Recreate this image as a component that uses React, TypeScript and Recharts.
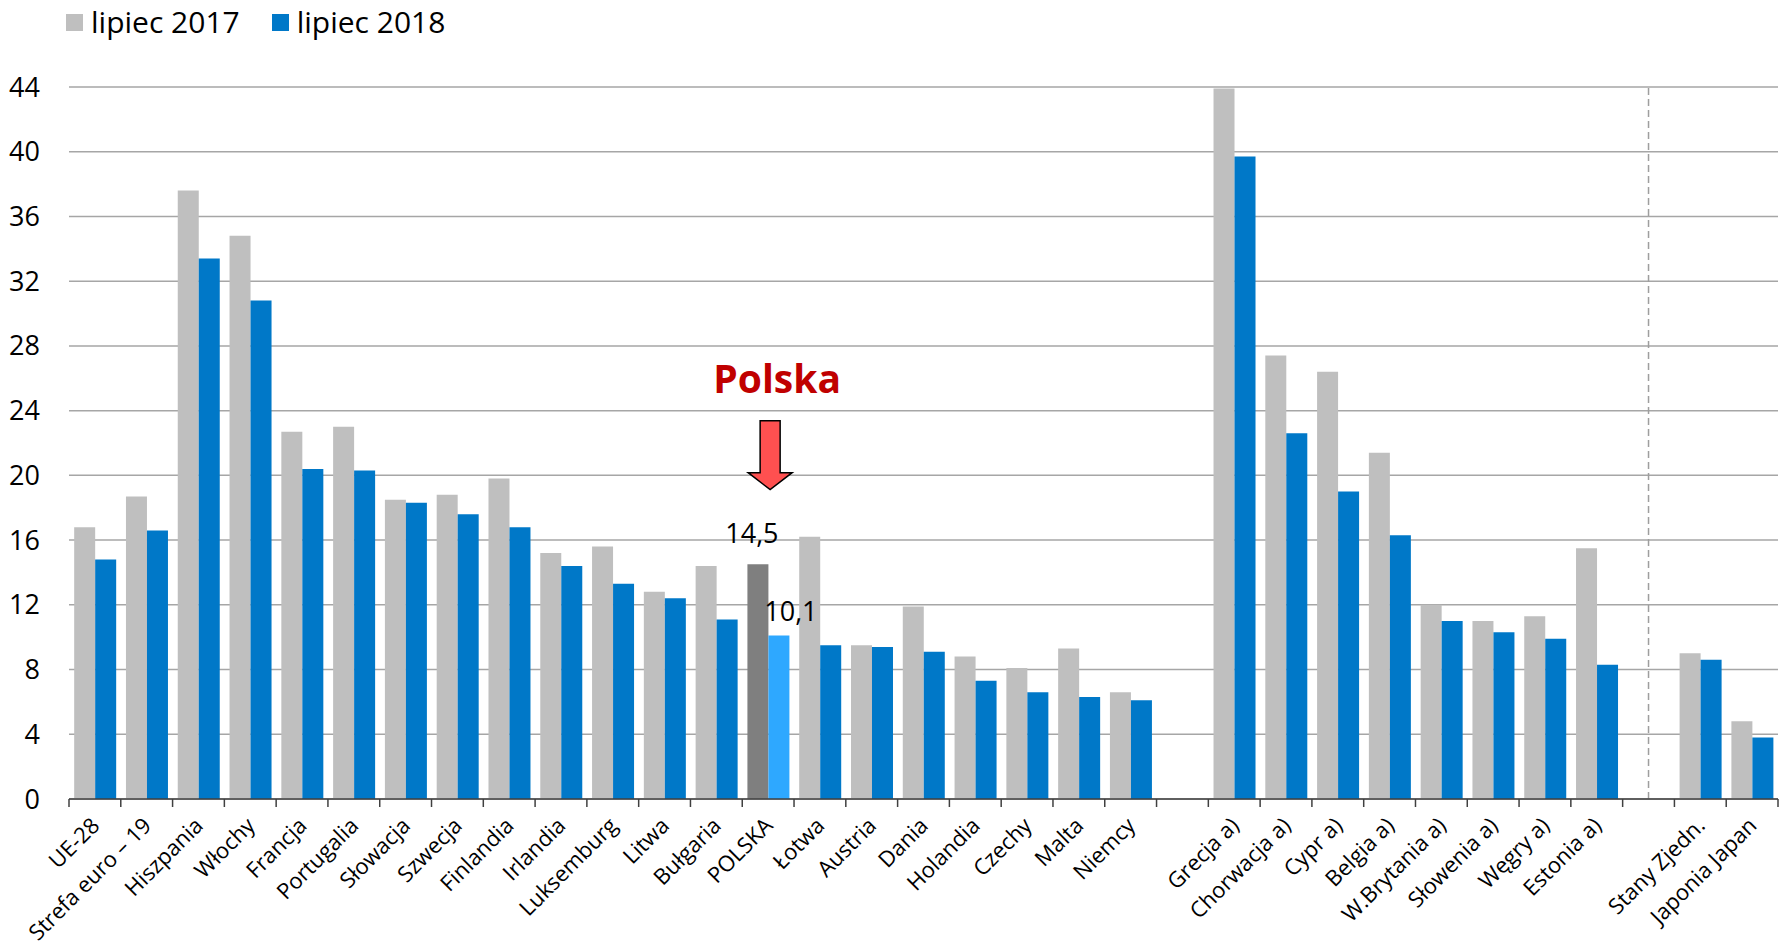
import React from "react";
import { BarChart, Bar, XAxis, YAxis, CartesianGrid, Cell, LabelList, ReferenceLine, ReferenceDot } from "recharts";

// categories (blank names are the gaps between groups)
const categories = [
  "UE-28", "Strefa euro – 19", "Hiszpania", "Włochy", "Francja", "Portugalia", "Słowacja",
  "Szwecja", "Finlandia", "Irlandia", "Luksemburg", "Litwa", "Bułgaria", "POLSKA", "Łotwa",
  "Austria", "Dania", "Holandia", "Czechy", "Malta", "Niemcy", " ",
  "Grecja a)", "Chorwacja a)", "Cypr a)", "Belgia a)", "W.Brytania a)", "Słowenia a)",
  "Węgry a)", "Estonia a)", "  ", "Stany Zjedn.", "Japonia Japan",
];

const lipiec2017 = [
  16.8, 18.7, 37.6, 34.8, 22.7, 23.0, 18.5, 18.8, 19.8, 15.2, 15.6, 12.8, 14.4, 14.5, 16.2,
  9.5, 11.9, 8.8, 8.1, 9.3, 6.6, null,
  43.9, 27.4, 26.4, 21.4, 12.0, 11.0, 11.3, 15.5, null, 9.0, 4.8,
];

const lipiec2018 = [
  14.8, 16.6, 33.4, 30.8, 20.4, 20.3, 18.3, 17.6, 16.8, 14.4, 13.3, 12.4, 11.1, 10.1, 9.5,
  9.4, 9.1, 7.3, 6.6, 6.3, 6.1, null,
  39.7, 22.6, 19.0, 16.3, 11.0, 10.3, 9.9, 8.3, null, 8.6, 3.8,
];

const yTicks = [0, 4, 8, 12, 16, 20, 24, 28, 32, 36, 40, 44];

const POLAND = "POLSKA";
const SEPARATOR = "  ";
const GRAY = "#BFBFBF";
const BLUE = "#0078C8";
const GRAY_PL = "#7F7F7F";
const BLUE_PL = "#2EA8FF";

const W = 1785;
const H = 945;
const M = { top: 87, right: 7, left: 0, bottom: 0 };
const Y_AXIS_W = 69;
const SLOT = (W - M.left - M.right - Y_AXIS_W) / categories.length;

const data = categories.map((name, i) => ({ name, v2017: lipiec2017[i], v2018: lipiec2018[i] }));

const FONT = "'Open Sans', sans-serif";

function CategoryTick(props: any) {
  const { x, y, payload, index } = props;
  const label = String(payload.value).trim();
  return (
    <g>
      <line x1={x - SLOT / 2} x2={x - SLOT / 2} y1={y} y2={y + 8} stroke="#404040" strokeWidth={1.5} />
      {index === categories.length - 1 && (
        <line x1={x + SLOT / 2} x2={x + SLOT / 2} y1={y} y2={y + 8} stroke="#404040" strokeWidth={1.5} />
      )}
      {label && (
        <text
          transform={`translate(${x + 6},${y + 28}) rotate(-45)`}
          textAnchor="end"
          fontSize={22}
          fontFamily={FONT}
          fill="#000"
        >
          {label}
        </text>
      )}
    </g>
  );
}

// value label only for Poland
const polandLabel = (dx: number, lift: number) => (props: any) => {
  const { x, y, width, value, index } = props;
  if (categories[index] !== POLAND) return null;
  return (
    <text x={x + width / 2 + dx} y={y - lift} textAnchor="middle" fontSize={27} fontFamily={FONT} fill="#000">
      {String(value).replace(".", ",")}
    </text>
  );
};

function PolskaArrow(props: any) {
  const { cx, cy } = props;
  const ax = cx + 2;
  return (
    <g>
      <text x={cx + 9} y={cy - 18} textAnchor="middle" fontSize={39} fontWeight="bold" fontFamily={FONT} fill="#C00000">
        Polska
      </text>
      <path
        d={`M ${ax - 10} ${cy + 10} L ${ax + 10} ${cy + 10} L ${ax + 10} ${cy + 62} L ${ax + 22} ${cy + 62} L ${ax} ${cy + 79} L ${ax - 22} ${cy + 62} L ${ax - 10} ${cy + 62} Z`}
        fill="#FF5050"
        stroke="#000"
        strokeWidth={1.5}
      />
    </g>
  );
}

function LegendItem({ color, text }: { color: string; text: string }) {
  return (
    <div style={{ display: "flex", alignItems: "center", marginRight: 32 }}>
      <div style={{ width: 17, height: 17, background: color, marginRight: 8 }} />
      <span style={{ fontSize: 30, fontFamily: FONT, color: "#000" }}>{text}</span>
    </div>
  );
}

export default function App() {
  return (
    <div style={{ position: "absolute", left: 0, top: 0, width: W, height: H, background: "#fff" }}>
      <div style={{ position: "absolute", left: 66, top: 4, display: "flex", zIndex: 2, lineHeight: "36px" }}>
        <LegendItem color={GRAY} text="lipiec 2017" />
        <LegendItem color={BLUE} text="lipiec 2018" />
      </div>
      <BarChart width={W} height={H} data={data} margin={M} barCategoryGap="10%" barGap={0}>
        <CartesianGrid vertical={false} stroke="#A6A6A6" strokeWidth={1.5} />
        <XAxis
          dataKey="name"
          interval={0}
          height={H - M.top - M.bottom - (799 - 87)}
          tickLine={false}
          tickSize={0}
          tickMargin={0}
          axisLine={{ stroke: "#404040", strokeWidth: 1.5 }}
          tick={<CategoryTick />}
        />
        <YAxis
          domain={[0, 44]}
          ticks={yTicks}
          width={Y_AXIS_W}
          axisLine={false}
          tickLine={false}
          tickSize={0}
          tickMargin={29}
          tick={{ fontSize: 27, fontFamily: FONT, fill: "#000" }}
        />
        <ReferenceLine x={SEPARATOR} stroke="#9E9E9E" strokeWidth={1.5} strokeDasharray="7 4" />
        <Bar dataKey="v2017" name="lipiec 2017" fill={GRAY} isAnimationActive={false}>
          {data.map((d) => (
            <Cell key={d.name} fill={d.name === POLAND ? GRAY_PL : GRAY} />
          ))}
          <LabelList dataKey="v2017" content={polandLabel(-6, 21)} />
        </Bar>
        <Bar dataKey="v2018" name="lipiec 2018" fill={BLUE} isAnimationActive={false}>
          {data.map((d) => (
            <Cell key={d.name} fill={d.name === POLAND ? BLUE_PL : BLUE} />
          ))}
          <LabelList dataKey="v2018" content={polandLabel(12, 15)} />
        </Bar>
        <ReferenceDot x={POLAND} y={24} r={1} shape={<PolskaArrow />} />
      </BarChart>
    </div>
  );
}
